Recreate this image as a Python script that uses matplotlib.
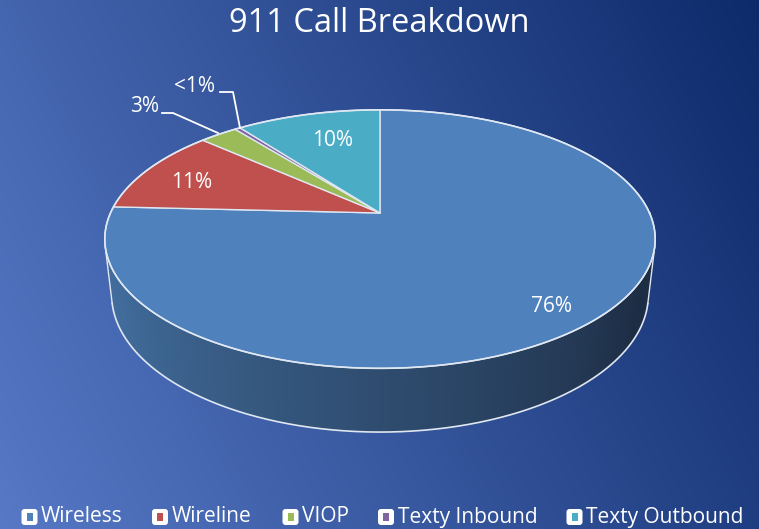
import numpy as np
import matplotlib
matplotlib.use('Agg')
import matplotlib.pyplot as plt
from matplotlib.patches import Polygon, FancyBboxPatch, Rectangle
from matplotlib.colors import to_rgb

# ---------------- data ----------------
categories = ['Wireless', 'Wireline', 'VIOP', 'Texty Inbound', 'Texty Outbound']
values = [75.8, 10.8, 2.7, 0.4, 10.3]
value_labels = ['76%', '11%', '3%', '<1%', '10%']
colors = ['#4f81bd', '#c0504d', '#9bbb59', '#8064a2', '#4bacc6']
title = '911 Call Breakdown'

FONT = ['Open Sans', 'DejaVu Sans']

W, H = 759, 529
fig = plt.figure(figsize=(W / 100, H / 100), dpi=100)
ax = fig.add_axes([0, 0, 1, 1])
ax.set_xlim(0, W)
ax.set_ylim(H, 0)
ax.axis('off')

# ---------------- background gradient ----------------
yy, xx = np.mgrid[0:H, 0:W]
t = 0.75 * xx / W + 0.25 * (1 - yy / H)
c0 = np.array(to_rgb('#5779c6'))
c1 = np.array(to_rgb('#0d2a6a'))
bg = c0[None, None, :] * (1 - t[..., None]) + c1[None, None, :] * t[..., None]
ax.imshow(bg, extent=(0, W, H, 0), zorder=0, aspect='auto')

# ---------------- 3D projection ----------------
cx, cy = 380.0, 213.0
ca, sa = 0.888, 0.46
dist = 4.40
foc = 1186.0
depth = 0.235


def proj(x, y, z):
    zc = dist + y * ca - z * sa
    return cx + foc * x / zc, cy - foc * (y * sa + z * ca) / zc


def rim(a0, a1, z, n=200):
    a = np.linspace(a0, a1, n)
    px, py = proj(np.cos(a), np.sin(a), z)
    return np.column_stack([px, py])


edge_c = '#dfe7f2'

# ---------------- side wall ----------------
phiL = np.pi + np.arcsin(1 / (dist * ca))
phiR = 2 * np.pi - np.arcsin(1 / (dist * ca))
side_l = np.array(to_rgb('#416c9b'))
side_r = np.array(to_rgb('#1d2d44'))
N = 160
angs = np.linspace(phiL, phiR, N + 1)
for i in range(N):
    a0, a1 = angs[i], angs[i + 1]
    top = rim(a0, a1, 0, 4)
    bot = rim(a1, a0, -depth, 4)
    fr = (i + 0.5) / N
    fr = np.clip((fr - 0.1) / 0.8, 0, 1)
    col = side_l * (1 - fr) + side_r * fr
    ax.add_patch(Polygon(np.vstack([top, bot]), closed=True, facecolor=col,
                         edgecolor=col, lw=0.6, zorder=2))
# side outlines
b = rim(phiL, phiR, -depth, 300)
ax.plot(b[:, 0], b[:, 1], color=edge_c, lw=1.2, zorder=3)
for a in (phiL, phiR):
    p0 = proj(np.cos(a), np.sin(a), 0)
    p1 = proj(np.cos(a), np.sin(a), -depth)
    ax.plot([p0[0], p1[0]], [p0[1], p1[1]], color=edge_c, lw=1.0, zorder=3)

# ---------------- top face wedges ----------------
total = sum(values)
cum = np.concatenate([[0], np.cumsum(values)])
apex = proj(0, 0, 0)
starts = np.deg2rad(90 - 360 * cum[:-1] / total)
ends = np.deg2rad(90 - 360 * cum[1:] / total)
for s, e, col in zip(starts, ends, colors):
    arc = rim(s, e, 0, max(3, int(abs(e - s) * 80)))
    pts = np.vstack([[apex], arc])
    ax.add_patch(Polygon(pts, closed=True, facecolor=col, edgecolor=edge_c,
                         lw=1.0, joinstyle='round', zorder=4))
r = rim(0, 2 * np.pi, 0, 400)
ax.plot(r[:, 0], r[:, 1], color=edge_c, lw=1.2, zorder=5)

# ---------------- data labels ----------------
lab_kw = dict(color='white', fontsize=15, family=FONT, va='center', zorder=6)
ax.text(552, 306, value_labels[0], ha='center', **lab_kw)
ax.text(192, 182, value_labels[1], ha='center', **lab_kw)
ax.text(333, 140, value_labels[4], ha='center', **lab_kw)
ax.text(159, 107, value_labels[2], ha='right', **lab_kw)
ax.text(215, 86, value_labels[3], ha='right', **lab_kw)
# leader lines
ax.plot([162, 173, 218], [113, 113, 133], color='white', lw=1.3, zorder=6)
ax.plot([220, 233, 240], [92, 92, 128], color='white', lw=1.3, zorder=6)

# ---------------- title ----------------
ax.text(379, 24, title, ha='center', va='center', color='white',
        fontsize=23.5, family=FONT, zorder=6)

# ---------------- legend ----------------
leg_x = [21, 151.5, 282, 377.5, 566]
ly = 517
for x, name, col in zip(leg_x, categories, colors):
    ax.add_patch(FancyBboxPatch((x + 0.5, ly - 8), 16, 16,
                                boxstyle='round,pad=0,rounding_size=3',
                                facecolor='white', edgecolor='none', zorder=6))
    ax.add_patch(Rectangle((x + 5.5, ly - 4), 6, 8, facecolor=col,
                           edgecolor='none', zorder=7))
    ax.text(x + 20, ly, name, ha='left', va='center', color='white',
            fontsize=15, family=FONT, zorder=6)

fig.savefig('out.png', dpi=100)
